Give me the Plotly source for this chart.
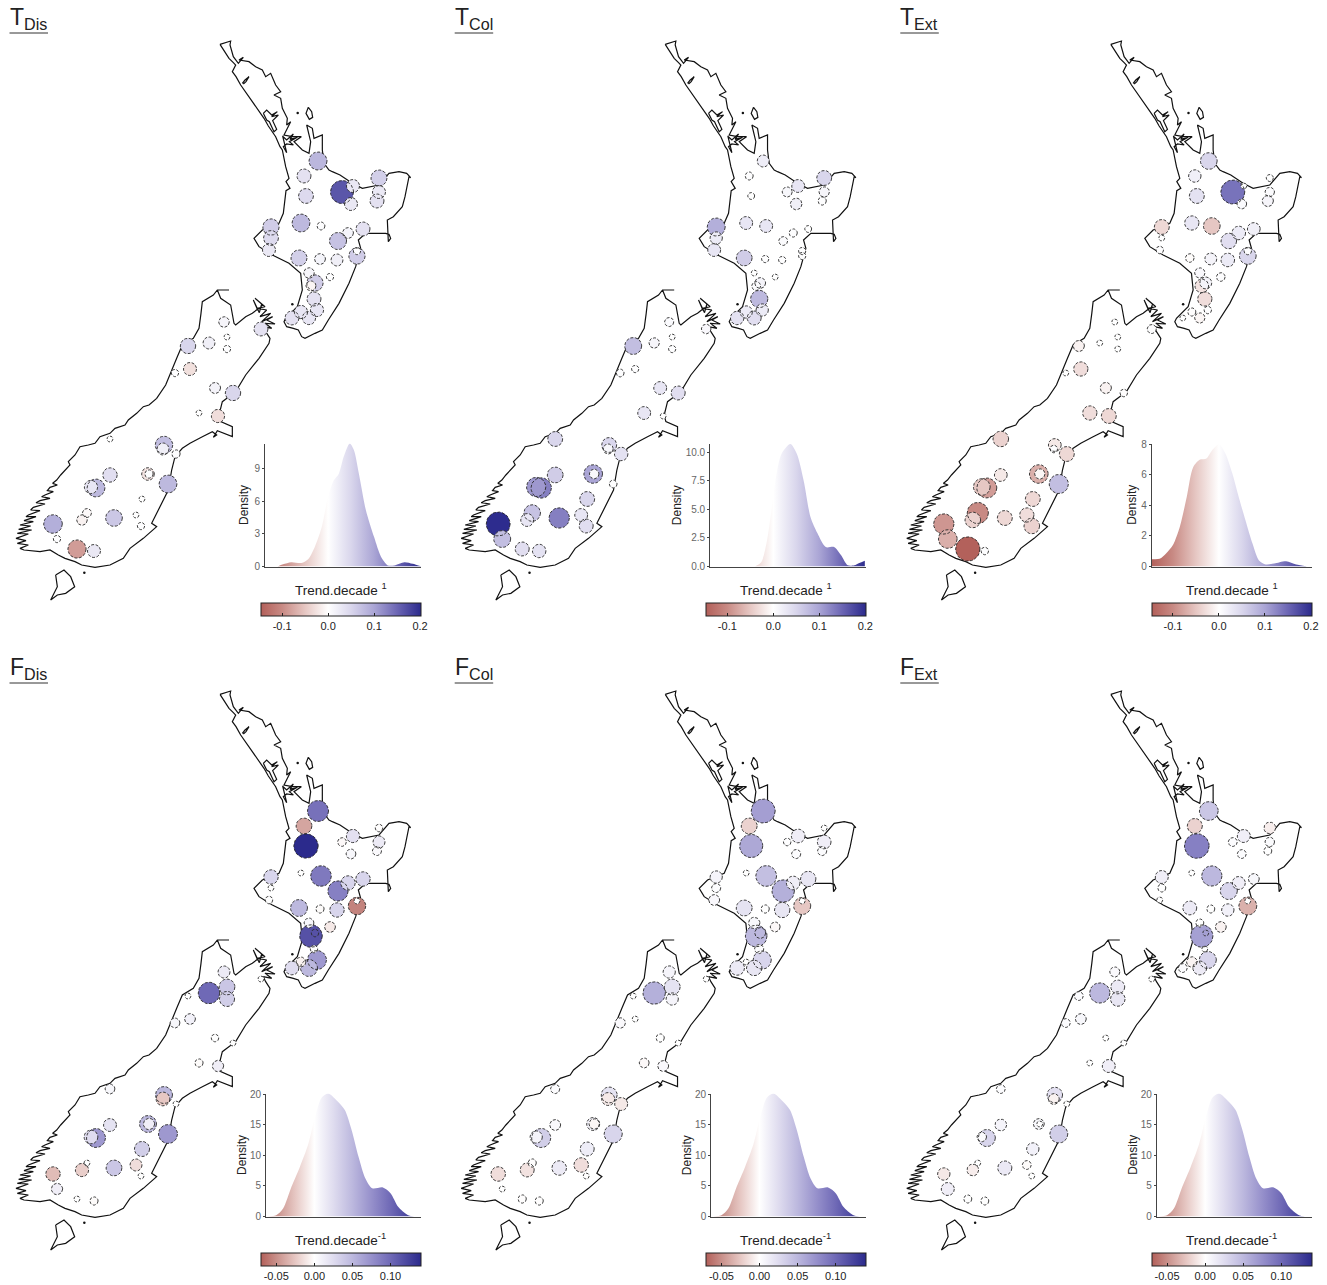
import numpy as np
import plotly.graph_objects as go

W, H = 1327, 1285

# ---- monitoring sites (map units) ----
SITE_X = [318,304,306,342,353,351,379,379,377,301,321,271,271,269,338,348,363,299,320,337,357,357,309,330,315,311,314,317,301,292,309,
          224,261,188,209,227,227,190,175,215,233,199,218,110,164,163,176,110,148,168,96,91,142,114,136,141,87,82,53,57,77,94,149]
SITE_Y = [161,176,196,192,186,204,178,192,201,223,226,227,238,250,241,233,229,258,259,260,256,251,273,277,283,286,299,310,312,318,318,
          322,329,346,343,337,349,369,373,388,393,413,416,439,445,449,454,475,474,484,488,487,499,518,515,526,513,520,524,539,549,551,474]

# ---- trend per site ----
T_DIS = [.082,.036,.045,.164,.028,.028,.057,.028,.036,.08,.002,.06,.045,.028,.07,.014,.036,.057,.014,.02,.06,.001,.012,.001,.06,-.009,.036,.03,.03,.036,.03,
         .012,.036,.05,.02,0,.001,-.028,.001,.015,.05,0,-.03,0,.075,.02,.003,.04,-.025,.08,.08,.03,0,.065,0,.001,-.005,-.012,.09,.001,-.085,.028,.003]
T_COL = [.022,.0025,.0005,.01,.03,.02,.05,.012,.003,.03,.03,.09,.025,.03,.005,.003,.0005,.06,.001,.001,.001,.001,0,0,.015,.005,.08,.025,.025,.035,.04,
         .006,.008,.075,.012,0,.001,.001,.002,.03,.04,.03,0,.05,.05,.01,.035,.06,.1,.002,.13,.11,.05,.13,.03,.04,.07,.03,.2,.075,.04,.035,.008]
T_EXT = [.05,.018,.035,.14,0,.006,.0005,.005,.012,.03,-.05,-.035,0,.001,.04,.025,.02,-.003,.015,.025,.05,.001,.008,.003,.015,-.025,-.03,.001,-.002,0,-.008,
         0,.004,-.012,0,0,0,-.03,0,-.012,-.001,-.03,-.035,-.04,-.02,.001,-.035,-.02,-.07,.075,-.085,-.05,-.035,-.035,-.03,-.04,-.1,-.04,-.09,-.07,-.145,.001,-.008]
F_DIS = [.095,-.04,.14,-.003,.022,.006,-.001,.015,.004,0,.09,.03,0,.001,.085,.03,.03,.05,-.002,.03,-.055,0,.006,-.01,.001,.115,.001,.07,-.006,.025,.05,
         .015,0,0,.1,.04,.035,.01,.006,.001,0,-.002,.012,.006,.05,-.025,0,.02,.05,.07,.07,.025,.035,.04,-.015,0,0,-.022,-.03,.012,0,-.002,.012]
F_COL = [.066,-.02,.06,.0005,.012,.002,0,.012,.002,0,.045,.008,.002,.005,.055,.012,.018,.02,.001,.018,-.025,0,.006,-.003,.005,.05,.002,.03,0,.015,.018,
         .008,0,0,.055,.02,.008,0,.004,.001,0,-.003,.005,.002,.02,-.01,-.01,.005,.01,.03,.035,.008,.013,.015,-.015,0,-.001,-.013,-.015,0,-.001,-.001,-.004]
F_EXT = [.04,-.02,.085,.002,.012,.002,-.008,.003,.001,0,.05,.012,.001,0,.03,.012,.006,.015,.001,.01,-.035,0,.001,-.006,0,.065,0,.03,-.005,.002,.015,
         .004,0,.002,.05,.015,.018,.006,.002,0,0,0,.012,.002,.022,-.006,0,.008,.006,.035,.03,.003,.01,.016,-.002,0,0,-.008,-.01,.012,.001,.001,0]

# ---- density curves ----
TD_X = [-.11,-.098,-.08,-.058,-.043,-.029,-.014,0,.012,.023,.034,.047,.056,.067,.082,.1,.115,.13,.144,.166,.184,.203]
TD_Y = [0,.2,.4,.33,.7,1.8,3.6,6.4,7.9,8.5,10.1,11.3,10.7,8.5,5.2,2.7,.9,.1,.1,.4,.25,0]
TC_X = [-.04,-.026,-.015,-.004,.007,.018,.037,.051,.066,.081,.096,.114,.132,.147,.162,.176,.187,.199]
TC_Y = [0,.4,2,4.9,8.1,9.85,10.7,9.85,7.5,4.3,2.9,1.7,1.7,1,.1,.1,.3,.5]
TE_X = [-.147,-.129,-.115,-.1,-.085,-.07,-.056,-.041,-.028,-.015,0,.014,.029,.043,.058,.073,.087,.102,.12,.146,.168,.19]
TE_Y = [.48,.5,.85,1.4,2.6,4.55,6.5,7,7.05,7.6,8,7.4,6.1,4.55,3,1.5,.4,.13,.2,.35,.13,.02]
F_X = [-.061,-.05,-.041,-.03,-.019,-.008,.0005,.0095,.018,.029,.04,.049,.058,.067,.076,.09,.1,.11,.122,.131,.14]
F_Y = [0,.2,1.3,4.85,8.1,11.8,16,19.4,20.1,19,17.4,14.1,9.75,6.2,4.6,4.75,3.8,1.6,.3,0,0]

# ---- coastline (trace units) ----
NI_X = [660,672,687,700,707,697,708,722,742,762,775,792,805,820,827,840,847,857,862,867,858,870,858,855,850,837,787,762,777,817,867,902,907,892,857,852,860,880,895,905,915,945,967,985,1000,1017,1047,1067,1082,1075,1097,1157,1167,1172,1165,1162,1180,1207,1215,1227,1232,1220,1197,1167,1137,1087,1057,1020,997,987,972,967,967,955,942,937,920,932,927,907,882,904,877,852,872,860,862,847,842,822,842,827,812,797,787,767,747,717,730,715,700,690,692,660]
NI_Y = [133,150,175,188,195,215,230,255,283,310,330,355,378,400,410,440,450,500,520,535,545,565,572,600,640,670,690,715,740,765,790,820,870,920,955,965,980,985,990,1010,1015,1000,990,960,935,910,850,800,745,720,700,700,703,715,725,660,650,620,590,530,533,520,515,520,555,565,550,525,515,510,490,450,405,410,415,385,375,425,460,450,425,410,410,405,365,375,355,325,295,285,275,255,220,230,210,200,185,180,172,190,170,135,123,133]
GB_X = [925,935,938,928,918,925]
GB_Y = [322,335,352,358,340,322]
HOK_X = [727,735,747,738,730]
HOK_Y = [250,240,230,245,252]
KAI_X = [790,800,815,832,815,835,818,825,830,822,808,800,790]
KAI_Y = [340,330,345,335,350,345,362,375,388,395,365,360,340]
MAN_X = [847,860,880,870,892,868,880,860,850,860,848]
MAN_Y = [408,420,402,418,412,425,435,432,440,458,408]
SI_X = [687,652,640,607,603,597,580,547,530,522,497,470,447,430,410,385,375,345,330,300,285,265,240,225,205,210,185,182,170,158,172,150,142,160,135,125,150,120,108,135,100,92,120,85,78,108,72,100,60,92,56,95,52,85,48,78,52,85,60,72,120,150,175,195,225,245,285,330,370,390,430,470,455,480,505,515,525,547,570,607,637,650,640,652,682,697,697,662,657,667,707,737,777,807,810,797,
        790,815,795,825,800,818,785,812,780,800,772,795,765,785,778,760,772,757,737,707,702,692,662,652]
SI_Y = [420,420,435,455,490,535,565,585,625,645,705,745,765,770,790,810,825,835,850,860,880,885,890,915,935,945,970,975,990,1000,1005,1012,1022,1025,1035,1040,1045,1052,1058,1062,1072,1080,1082,1095,1100,1100,1112,1115,1125,1128,1138,1140,1150,1152,1165,1172,1180,1185,1195,1200,1205,1200,1215,1225,1235,1245,1252,1245,1225,1195,1165,1130,1120,1070,1020,960,920,895,880,860,845,855,862,842,855,860,830,815,795,755,725,675,625,580,565,545,
        530,535,520,522,510,500,515,490,500,480,475,470,445,462,488,450,478,490,500,525,520,465,445,420]
ST_X = [167,192,212,224,197,172,152,172,167]
ST_Y = [1275,1260,1280,1310,1330,1335,1350,1310,1275]
DOT_X = [893/3, 877/3, 253/3]
DOT_Y = [339/3, 150+463/3, 150+1268/3]

# ---- colour scales ----
T_RANGE = (-.146, .202)
F_RANGE = (-.07, .14)
T_STOPS = [(-.146,'#b3605a'),(-.1,'#c88a84'),(-.05,'#e6c7c3'),(0,'#ffffff'),(.05,'#d9d6ec'),(.1,'#aaa5d5'),(.15,'#6c66b4'),(.202,'#2b2a8c')]
F_STOPS = [(-.07,'#b3605a'),(-.05,'#c88f89'),(-.025,'#e6c7c3'),(0,'#ffffff'),(.025,'#dfdcef'),(.05,'#bcb8de'),(.075,'#9690cb'),(.1,'#6f69b6'),(.14,'#2b2a8c')]

def cscale(stops, rng):
    return [[(v - rng[0]) / (rng[1] - rng[0]), c] for v, c in stops]

PANELS = [
    dict(t='T', s='Dis', v=T_DIS, k=21, col=0, row=0, dx=TD_X, dy=TD_Y, ymax=11.3, yt=[0,3,6,9], ytl=['0','3','6','9'], left=265, dens=244, rng=T_RANGE, st=T_STOPS, cb=[-.1,0,.1,.2], cbl=['-0.1','0.0','0.1','0.2'], unit='Trend.decade <sup>1</sup>'),
    dict(t='T', s='Col', v=T_COL, k=20, col=1, row=0, dx=TC_X, dy=TC_Y, ymax=10.75, yt=[0,2.5,5,7.5,10], ytl=['0.0','2.5','5.0','7.5','10.0'], left=265, dens=232, rng=T_RANGE, st=T_STOPS, cb=[-.1,0,.1,.2], cbl=['-0.1','0.0','0.1','0.2'], unit='Trend.decade <sup>1</sup>'),
    dict(t='T', s='Ext', v=T_EXT, k=24, col=2, row=0, dx=TE_X, dy=TE_Y, ymax=8.05, yt=[0,2,4,6,8], ytl=['0','2','4','6','8'], left=261, dens=241, rng=T_RANGE, st=T_STOPS, cb=[-.1,0,.1,.2], cbl=['-0.1','0.0','0.1','0.2'], unit='Trend.decade <sup>1</sup>'),
    dict(t='F', s='Dis', v=F_DIS, k=24.5, col=0, row=1, dx=F_X, dy=F_Y, ymax=20.1, yt=[0,5,10,15,20], ytl=['0','5','10','15','20'], left=266, dens=242, rng=F_RANGE, st=F_STOPS, cb=[-.05,0,.05,.1], cbl=['-0.05','0.00','0.05','0.10'], unit='Trend.decade<sup>-1</sup>'),
    dict(t='F', s='Col', v=F_COL, k=35, col=1, row=1, dx=F_X, dy=F_Y, ymax=20.1, yt=[0,5,10,15,20], ytl=['0','5','10','15','20'], left=266, dens=242, rng=F_RANGE, st=F_STOPS, cb=[-.05,0,.05,.1], cbl=['-0.05','0.00','0.05','0.10'], unit='Trend.decade<sup>-1</sup>'),
    dict(t='F', s='Ext', v=F_EXT, k=32, col=2, row=1, dx=F_X, dy=F_Y, ymax=20.1, yt=[0,5,10,15,20], ytl=['0','5','10','15','20'], left=266, dens=242, rng=F_RANGE, st=F_STOPS, cb=[-.05,0,.05,.1], cbl=['-0.05','0.00','0.05','0.10'], unit='Trend.decade<sup>-1</sup>'),
]
COL_DX = [0, 445.2, 890.8]
ROW_DY = [0, 650]
FONT = 'Liberation Sans, Arial, sans-serif'

fx = lambda p: p / W
fy = lambda p: 1 - p / H

fig = go.Figure()
layout = dict(width=W, height=H, margin=dict(l=0, r=0, t=0, b=0, autoexpand=False), paper_bgcolor='white', plot_bgcolor='rgba(0,0,0,0)',
              showlegend=False, font=dict(family=FONT, color='#222222'))
annots, shapes = [], []
theta = np.radians(np.arange(0, 361, 12))

def join(parts):
    xs, ys = [], []
    for a, b in parts:
        xs += list(a) + [None]
        ys += list(b) + [None]
    return xs, ys

for i, p in enumerate(PANELS):
    ox, oy = COL_DX[p['col']], ROW_DY[p['row']]
    mx = f'x{2*i+1}'; my = f'y{2*i+1}'
    dxa = f'x{2*i+2}'; dya = f'y{2*i+2}'

    # map axes: one map unit = one page pixel
    layout[f'xaxis{2*i+1}'] = dict(domain=[fx(ox), fx(ox + 436)], range=[0, 436], visible=False, fixedrange=True)
    layout[f'yaxis{2*i+1}'] = dict(domain=[fy(oy + 630), fy(oy)], range=[630, 0], visible=False, fixedrange=True)

    # coast
    north = [(np.array(a)/3, np.array(b)/3) for a, b in [(NI_X, NI_Y), (GB_X, GB_Y), (HOK_X, HOK_Y), (KAI_X, KAI_Y), (MAN_X, MAN_Y)]]
    south = [(np.array(SI_X)/3, 150+np.array(SI_Y)/3), (np.array(ST_X)/3, 150+np.array(ST_Y)/3)]
    cx, cy = join(north + south)
    fig.add_trace(go.Scatter(x=cx, y=cy, mode='lines', line=dict(color='#111111', width=1.2), xaxis=mx, yaxis=my, hoverinfo='skip'))
    fig.add_trace(go.Scatter(x=DOT_X, y=DOT_Y, mode='markers', marker=dict(size=2.5, color='#111111'), xaxis=mx, yaxis=my, hoverinfo='skip'))

    # sites: largest first so small circles stay visible; in the F row site 24 sits under its neighbour
    v = np.array(p['v'], float)
    r = 3 + p['k'] * np.sqrt(np.abs(v))
    key = -r.copy()
    if p['row'] == 1:
        key[24] = -99
    order = np.argsort(key)
    sx = np.array(SITE_X, float)[order]; sy = np.array(SITE_Y, float)[order]
    cname = f'coloraxis{i+1}' if i else 'coloraxis'
    fig.add_trace(go.Scatter(x=sx, y=sy, mode='markers', xaxis=mx, yaxis=my,
                             marker=dict(size=2*r[order], color=v[order], coloraxis=cname, line=dict(width=0), opacity=1)))
    rx, ry = [], []
    for x0, y0, rr in zip(sx, sy, r[order]):
        rx += list(x0 + rr*np.cos(theta)) + [None]
        ry += list(y0 + rr*np.sin(theta)) + [None]
    fig.add_trace(go.Scatter(x=rx, y=ry, mode='lines', xaxis=mx, yaxis=my, hoverinfo='skip',
                             line=dict(color='#2a2a2a', width=0.9, dash='3px,1.6px')))

    # colour bar
    cs = cscale(p['st'], p['rng'])
    layout[cname] = dict(
        cmin=p['rng'][0], cmax=p['rng'][1], colorscale=cs,
        colorbar=dict(orientation='h', x=fx(ox + 261), xanchor='left', xref='paper', y=fy(oy + 602.5), yanchor='top', yref='paper',
                      len=160, lenmode='pixels', thickness=13, thicknessmode='pixels', xpad=0, ypad=0,
                      outlinewidth=1, outlinecolor='#222222', ticks='inside', ticklen=3, tickcolor='#222222', tickwidth=1,
                      tickvals=p['cb'], ticktext=p['cbl'], tickfont=dict(size=11, color='#222222', family=FONT)))

    # density inset
    r0, r1 = p['rng']
    per = 160 / (r1 - r0)
    xleft = r0 + (p['left'] - 261) / per
    layout[f'xaxis{2*i+2}'] = dict(domain=[fx(ox + p['left']), fx(ox + 421)], range=[xleft, r1], showticklabels=False, ticks='',
                                   showgrid=False, zeroline=False, showline=True, linecolor='#444444', linewidth=1, anchor=dya, fixedrange=True)
    layout[f'yaxis{2*i+2}'] = dict(domain=[fy(oy + 566.5), fy(oy + 443.5)],
                                   range=[0, p['ymax']], tickvals=p['yt'], ticktext=p['ytl'], ticks='outside', ticklen=2, tickcolor='#444444',
                                   tickfont=dict(size=10, color='#666666', family=FONT), showgrid=False, zeroline=False,
                                   showline=True, linecolor='#444444', linewidth=1, anchor=dxa, fixedrange=True)
    fig.add_trace(go.Scatter(x=p['dx'], y=p['dy'], mode='lines', xaxis=dxa, yaxis=dya, line=dict(width=0, shape='spline', smoothing=0.8),
                             fill='tozeroy', fillgradient=dict(type='horizontal', colorscale=cs, start=r0, stop=r1), hoverinfo='skip'))

    annots.append(dict(xref='paper', yref='paper', x=fx(ox + p['dens']), y=fy(oy + 505), text='Density', textangle=-90, showarrow=False,
                       xanchor='center', yanchor='middle', font=dict(size=12, color='#222222', family=FONT)))
    annots.append(dict(xref='paper', yref='paper', x=fx(ox + 293), y=fy(oy + 589), text=p['unit'], showarrow=False,
                       xanchor='left', yanchor='middle', font=dict(size=13.5, color='#222222', family=FONT)))
    annots.append(dict(xref='paper', yref='paper', x=fx(ox + 9.5), y=fy(oy + 33), text=f"{p['t']}<sub>{p['s']}</sub>", showarrow=False,
                       xanchor='left', yanchor='bottom', font=dict(size=23, color='#222222', family=FONT), borderpad=0, borderwidth=0))
    shapes.append(dict(type='line', xref='paper', yref='paper', x0=fx(ox + 9.5), x1=fx(ox + 48), y0=fy(oy + 33), y1=fy(oy + 33),
                       line=dict(color='#333333', width=1)))

layout['annotations'] = annots
layout['shapes'] = shapes
fig.update_layout(**layout)
fig.write_html('out.html', config={'displayModeBar': False},
               post_script="document.body.style.margin='0';document.body.style.overflow='hidden';")
